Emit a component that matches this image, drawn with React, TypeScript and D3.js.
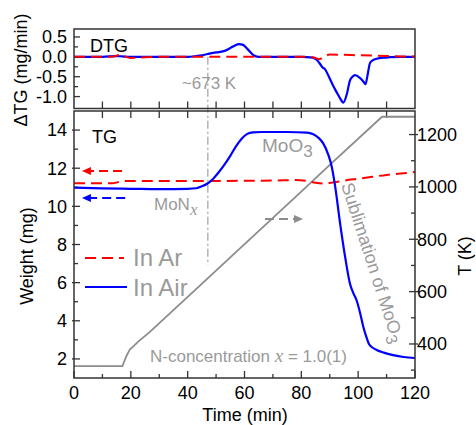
import React, { useRef, useEffect } from "react";
import * as d3 from "d3";

// ---- data ----
const tempTime = [0, 17, 18.5, 19.7, 20.8, 22.5, 26.7, 36.2, 44.3, 54.9, 79.5, 90.4, 108.4, 120];
const tempK = [315, 315, 355, 380, 390, 408, 446, 542, 623, 730, 977, 1088, 1268, 1268];

const airTime = [0, 10, 20, 30, 40, 43, 45, 47, 49, 51, 53, 55, 57, 59, 61, 63, 66, 75, 82, 84, 86, 87.7, 89.5, 90.7, 91.8, 93.6, 95.4, 97.1, 98.3, 99.5, 100.7, 101.8, 103, 103.8, 105, 106.5, 109, 112.3, 116, 120];
const airWeight = [10.98, 10.94, 10.92, 10.9, 10.92, 10.95, 11.05, 11.2, 11.45, 11.8, 12.2, 12.65, 13.15, 13.55, 13.8, 13.88, 13.9, 13.9, 13.87, 13.8, 13.6, 13.3, 12.7, 12.08, 11.15, 9.15, 7.36, 5.96, 5.45, 5.05, 4.4, 3.69, 3.1, 2.78, 2.6, 2.47, 2.33, 2.2, 2.1, 2.05];

const arTime = [0, 13.5, 15.5, 17.5, 40, 70, 78, 82, 85, 88, 91, 95, 100, 105, 110, 115, 120];
const arWeight = [11.21, 11.21, 11.27, 11.33, 11.33, 11.35, 11.38, 11.33, 11.24, 11.2, 11.25, 11.35, 11.45, 11.55, 11.65, 11.72, 11.8];

const dtgAirTime = [0, 5, 10, 15, 17, 20, 25, 30, 35, 40, 43, 45, 47, 49, 51, 53, 55, 56.5, 58, 59.5, 61, 63, 65, 70, 75, 80, 84, 85.5, 86.8, 87.5, 88.3, 89.7, 91.2, 92.5, 93.6, 94.8, 96, 97.1, 98, 98.9, 100.6, 101.8, 102.6, 103.2, 104.2, 105.3, 106.5, 109, 111.2, 115, 120];
const dtgAir = [0, 0, 0, 0.02, 0.01, 0, 0, 0, 0, 0, 0.02, 0.04, 0.07, 0.1, 0.12, 0.15, 0.22, 0.28, 0.32, 0.3, 0.2, 0.05, 0, 0, 0, 0, -0.02, -0.08, -0.2, -0.27, -0.31, -0.5, -0.73, -0.9, -1.04, -1.15, -0.94, -0.6, -0.5, -0.46, -0.53, -0.62, -0.69, -0.5, -0.15, -0.08, -0.05, -0.02, -0.01, 0, 0];

const dtgArTime = [0, 5, 10, 14, 16, 18, 20, 25, 30, 40, 50, 60, 70, 80, 84, 86.2, 88, 90, 95, 100, 105, 110, 115, 120];
const dtgAr = [0, 0, 0, 0.01, 0.05, 0.01, -0.03, -0.01, 0, 0, 0, 0, 0, 0, -0.01, -0.06, 0, 0.06, 0.05, 0.04, 0.03, 0.02, 0.01, 0.01];

const timeTicks = [0, 20, 40, 60, 80, 100, 120];
const weightTicks = [2, 4, 6, 8, 10, 12, 14];
const tempTicks = [400, 600, 800, 1000, 1200];
const dtgTicks = [0.5, 0.0, -0.5, -1.0];

const onsetTime = 47.1;

const W = 476;
const H = 425;

const App = () => {
  const ref = useRef(null);

  useEffect(() => {
    const svg = d3.select(ref.current);
    svg.selectAll("*").remove();

    const left = 74, right = 415;
    const topY0 = 29, topY1 = 108.5;
    const botY0 = 111, botY1 = 378;
    const font = "Liberation Sans, Arial, sans-serif";
    const gray = "#9a9a9a";
    const frame = "#333";

    const x = d3.scaleLinear().domain([0, 120]).range([left, right]);
    const yDtg = d3.scaleLinear().domain([-1.3, 0.7]).range([topY1, topY0]);
    const yW = d3.scaleLinear().domain([1, 15]).range([botY1, botY0]);
    const yT = d3.scaleLinear().domain([270, 1290]).range([botY1, botY0]);

    const tick = (x1, y1, x2, y2) =>
      svg.append("line").attr("x1", x1).attr("y1", y1).attr("x2", x2).attr("y2", y2)
        .attr("stroke", frame).attr("stroke-width", 1.3);

    // ---- top panel ticks ----
    dtgTicks.forEach((v) => {
      tick(left, yDtg(v), left + 6, yDtg(v));
      svg.append("text").attr("x", 67).attr("y", yDtg(v)).attr("dy", "0.35em")
        .attr("text-anchor", "end").style("font-family", font).style("font-size", "18px")
        .text(v.toFixed(1));
    });
    [0.25, -0.25, -0.75].forEach((v) => tick(left, yDtg(v), left + 4, yDtg(v)));
    d3.range(10, 120, 10).forEach((t) => {
      tick(x(t), topY1, x(t), topY1 - 7);
      tick(x(t), botY0, x(t), botY0 + 7);
    });

    // ---- bottom panel ticks ----
    weightTicks.forEach((v) => {
      tick(left - 2, yW(v), left + 6, yW(v));
      svg.append("text").attr("x", 67).attr("y", yW(v)).attr("dy", "0.35em")
        .attr("text-anchor", "end").style("font-family", font).style("font-size", "18px")
        .text(v);
    });
    d3.range(3, 15, 2).forEach((v) => tick(left, yW(v), left + 4, yW(v)));

    tempTicks.forEach((v) => {
      tick(right - 6, yT(v), right + 3, yT(v));
      svg.append("text").attr("x", 417).attr("y", yT(v)).attr("dy", "0.35em")
        .style("font-family", font).style("font-size", "18px").text(v);
    });
    [300, 500, 700, 900, 1100].forEach((v) => tick(right - 4, yT(v), right, yT(v)));

    timeTicks.forEach((t) => {
      tick(x(t), botY1, x(t), botY1 - 7);
      svg.append("text").attr("x", x(t)).attr("y", 399).attr("text-anchor", "middle")
        .style("font-family", font).style("font-size", "18px").text(t);
    });
    d3.range(10, 120, 20).forEach((t) => tick(x(t), botY1, x(t), botY1 - 4));

    // ---- onset line ----
    svg.append("line").attr("x1", x(onsetTime)).attr("x2", x(onsetTime))
      .attr("y1", yDtg(0)).attr("y2", 265)
      .attr("stroke", "#a0a0a0").attr("stroke-width", 1.2)
      .attr("stroke-dasharray", "8,3,2,3");

    // ---- curves ----
    const zipT = (ts, vs) => ts.map((t, i) => [t, vs[i]]);

    const lineT = d3.line().x((d) => x(d[0])).y((d) => yT(d[1]));
    svg.append("path").datum(zipT(tempTime, tempK)).attr("fill", "none")
      .attr("stroke", "#8c8c8c").attr("stroke-width", 1.8).attr("d", lineT);

    const lineW = d3.line().x((d) => x(d[0])).y((d) => yW(d[1])).curve(d3.curveMonotoneX);
    svg.append("path").datum(zipT(arTime, arWeight)).attr("fill", "none")
      .attr("stroke", "#ff0000").attr("stroke-width", 2).attr("stroke-dasharray", "11,6")
      .attr("d", lineW);
    svg.append("path").datum(zipT(airTime, airWeight)).attr("fill", "none")
      .attr("stroke", "#0000ff").attr("stroke-width", 2.2).attr("d", lineW);

    const lineD = d3.line().x((d) => x(d[0])).y((d) => yDtg(d[1])).curve(d3.curveMonotoneX);
    svg.append("path").datum(zipT(dtgAirTime, dtgAir)).attr("fill", "none")
      .attr("stroke", "#0000ff").attr("stroke-width", 2.2).attr("d", lineD);
    svg.append("path").datum(zipT(dtgArTime, dtgAr)).attr("fill", "none")
      .attr("stroke", "#ff0000").attr("stroke-width", 2).attr("stroke-dasharray", "11,6")
      .attr("d", lineD);

    // ---- axis arrows ----
    const arrow = (x1, x2, y, color) => {
      const dir = x2 > x1 ? 1 : -1;
      svg.append("line").attr("x1", x1).attr("x2", x2 - dir * 7).attr("y1", y).attr("y2", y)
        .attr("stroke", color).attr("stroke-width", 2).attr("stroke-dasharray", "9,5");
      svg.append("path")
        .attr("d", `M${x2},${y} L${x2 - dir * 9},${y - 4} L${x2 - dir * 9},${y + 4} Z`)
        .attr("fill", color);
    };
    arrow(x(16.9), x(2.8), yW(11.85), "#ff0000");
    arrow(x(18), x(2.8), yW(10.44), "#0000ff");
    arrow(x(67.2), x(80.6), yT(877), "#8c8c8c");

    // ---- frames ----
    svg.append("rect").attr("x", left).attr("y", topY0).attr("width", right - left)
      .attr("height", topY1 - topY0).attr("fill", "none").attr("stroke", frame).attr("stroke-width", 1.5);
    svg.append("rect").attr("x", left).attr("y", botY0).attr("width", right - left)
      .attr("height", botY1 - botY0).attr("fill", "none").attr("stroke", frame).attr("stroke-width", 1.5);

    // ---- legend ----
    svg.append("line").attr("x1", 85).attr("x2", 124).attr("y1", 258).attr("y2", 258)
      .attr("stroke", "#ff0000").attr("stroke-width", 2).attr("stroke-dasharray", "11,6");
    svg.append("text").attr("x", 133).attr("y", 266).style("font-family", font)
      .style("font-size", "24px").attr("fill", gray).text("In Ar");
    svg.append("line").attr("x1", 85).attr("x2", 127).attr("y1", 287).attr("y2", 287)
      .attr("stroke", "#0000ff").attr("stroke-width", 2.2);
    svg.append("text").attr("x", 133).attr("y", 296).style("font-family", font)
      .style("font-size", "24px").attr("fill", gray).text("In Air");

    // ---- labels ----
    const txt = (xp, yp, size, color) =>
      svg.append("text").attr("x", xp).attr("y", yp).style("font-family", font)
        .style("font-size", size + "px").attr("fill", color);

    txt(90, 52, 18, "#000").text("DTG");
    txt(92, 143, 18, "#000").text("TG");
    txt(209, 89, 17, gray).attr("text-anchor", "middle").text("~673 K");

    const mon = txt(154, 210, 17, gray);
    mon.append("tspan").text("MoN");
    mon.append("tspan").attr("dy", 5).style("font-family", "Liberation Serif, serif")
      .style("font-style", "italic").style("font-size", "17px").text("x");

    const moo = txt(262, 152, 19, gray);
    moo.append("tspan").text("MoO");
    moo.append("tspan").attr("dy", 5).style("font-size", "17px").text("3");

    const sub = svg.append("text").attr("transform", "translate(341,185) rotate(72)")
      .style("font-family", font).style("font-size", "18px").attr("fill", gray);
    sub.append("tspan").text("Sublimation of MoO");
    sub.append("tspan").attr("dy", 5).style("font-size", "16px").text("3");

    const nc = txt(150, 362, 17, gray);
    nc.append("tspan").text("N-concentration ");
    nc.append("tspan").style("font-family", "Liberation Serif, serif").style("font-style", "italic")
      .style("font-size", "19px").text("x");
    nc.append("tspan").text(" = 1.0(1)");

    // axis titles
    svg.append("text").attr("transform", "translate(27,70) rotate(-90)").attr("text-anchor", "middle")
      .style("font-family", font).style("font-size", "18px").text("\u0394TG (mg/min)");
    svg.append("text").attr("transform", "translate(33,256) rotate(-90)").attr("text-anchor", "middle")
      .style("font-family", font).style("font-size", "18px").text("Weight (mg)");
    svg.append("text").attr("transform", "translate(471,256) rotate(-90)").attr("text-anchor", "middle")
      .style("font-family", font).style("font-size", "18px").text("T (K)");
    svg.append("text").attr("x", 245).attr("y", 421).attr("text-anchor", "middle")
      .style("font-family", font).style("font-size", "18px").text("Time (min)");
  }, []);

  return (
    <svg
      ref={ref}
      width={W}
      height={H}
      style={{ position: "absolute", left: 0, top: 0, background: "#fff" }}
    />
  );
};

export default App;
